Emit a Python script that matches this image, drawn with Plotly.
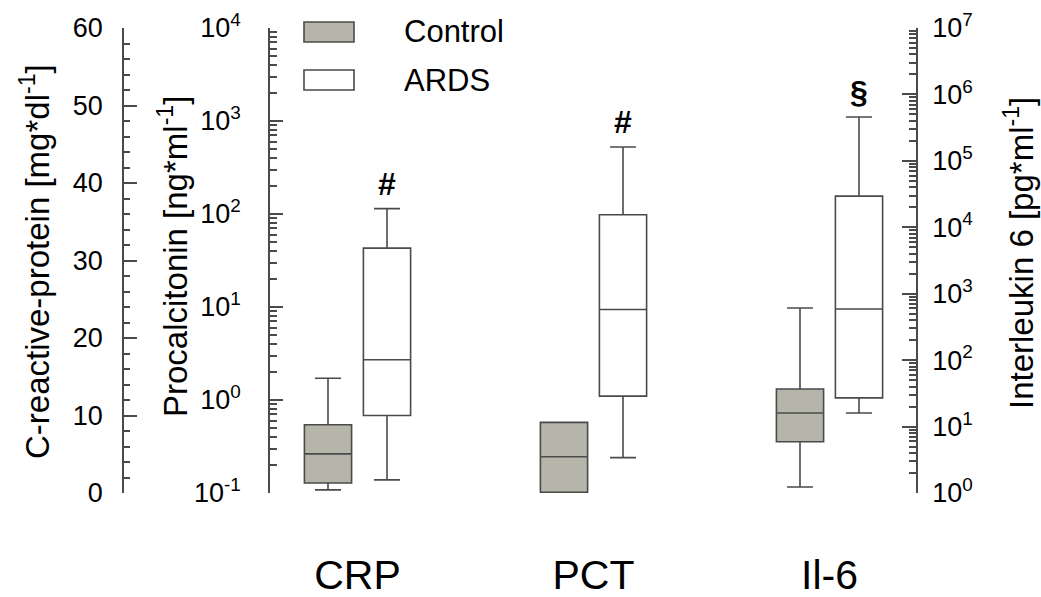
import math
import plotly.graph_objects as go

# ---------------- data ----------------
categories = ["CRP", "PCT", "Il-6"]
groups = ["Control", "ARDS"]
# each list: [lower whisker, Q1, median, Q3, upper whisker]
crp_control = [0.4, 1.3, 5.05, 8.8, 14.8]
crp_ards = [1.7, 10.0, 17.2, 31.6, 36.7]
pct_control = [0.102, 0.102, 0.245, 0.575, 0.575]
pct_ards = [0.24, 1.1, 9.4, 98, 525]
il6_control = [1.23, 5.9, 16, 36.8, 610]
il6_ards = [16, 27, 588, 29500, 457000]
significance = ["#", "#", "§"]

crp_ticks = [0, 10, 20, 30, 40, 50, 60]
pct_ticks = [-1, 0, 1, 2, 3, 4]
il6_ticks = [0, 1, 2, 3, 4, 5, 6, 7]

axis_titles = ["C-reactive-protein [mg*dl<sup>-1</sup>]",
               "Procalcitonin [ng*ml<sup>-1</sup>]",
               "Interleukin 6 [pg*ml<sup>-1</sup>]"]

# ---------------- style ----------------
W, H = 1041, 597
TOP, BOT = 28, 493
FONT = "Liberation Sans, Arial, sans-serif"
LINE = "#4a4a4a"
FILLS = {"Control": "#b6b5a9", "ARDS": "#ffffff"}
OFFS = {"Control": -0.125, "ARDS": 0.125}
CENTER0, SPACING = 357.5, 236.0


def px_x(p):
    return p / W


def px_y(p):
    return (BOT - p) / (BOT - TOP)


data = {
    ("CRP", "Control"): crp_control, ("CRP", "ARDS"): crp_ards,
    ("PCT", "Control"): pct_control, ("PCT", "ARDS"): pct_ards,
    ("Il-6", "Control"): il6_control, ("Il-6", "ARDS"): il6_ards,
}
axes = {"CRP": "y", "PCT": "y2", "Il-6": "y3"}

fig = go.Figure()
for i, cat in enumerate(categories):
    for g in groups:
        lf, q1, med, q3, uf = data[(cat, g)]
        fig.add_trace(go.Box(
            x=[i + OFFS[g]], q1=[q1], median=[med], q3=[q3],
            lowerfence=[lf], upperfence=[uf],
            width=0.2, whiskerwidth=0.55,
            fillcolor=FILLS[g], line=dict(color=LINE, width=1.6),
            yaxis=axes[cat], name=g, showlegend=False, boxpoints=False,
            hoverinfo="skip",
        ))

annotations = []
# significance markers
for i, cat in enumerate(categories):
    uf = data[(cat, "ARDS")][4]
    yv = uf if cat == "CRP" else math.log10(uf)
    annotations.append(dict(
        x=i + OFFS["ARDS"], y=yv, xref="x", yref=axes[cat],
        text="<b>%s</b>" % significance[i], showarrow=False,
        yanchor="bottom", yshift=5,
        font=dict(family=FONT, size=32, color="black")))

# axis titles
title_pos = [(35, 262), (173, 257), (1019, 253)]
for t, (xp, yp) in zip(axis_titles, title_pos):
    annotations.append(dict(
        x=px_x(xp), y=px_y(yp), xref="paper", yref="paper", text=t,
        textangle=-90, showarrow=False, xanchor="center", yanchor="middle",
        font=dict(family=FONT, size=33, color="black")))

# legend
shapes = []
legend_rows = [("Control", 22, 42), ("ARDS", 70, 90)]
for name, y0, y1 in legend_rows:
    shapes.append(dict(type="rect", xref="paper", yref="paper",
                       x0=px_x(304), x1=px_x(354), y0=px_y(y1), y1=px_y(y0),
                       fillcolor=FILLS[name], line=dict(color=LINE, width=1.6)))
    annotations.append(dict(
        x=px_x(402), y=px_y((y0 + y1) / 2), xref="paper", yref="paper",
        text=name, showarrow=False, xanchor="left", yanchor="middle",
        font=dict(family=FONT, size=31, color="black")))


def sup(e):
    return "10<sup>%d</sup>" % e


def minor_vals(lo, hi):
    return [m * 10 ** k for k in range(lo, hi) for m in range(2, 10)]


common = dict(showline=True, linecolor=LINE, linewidth=1.6, ticks="inside",
              tickcolor=LINE, tickwidth=1.6, showgrid=False, zeroline=False,
              tickfont=dict(family=FONT, size=27, color="black"),
              automargin=False, anchor="free")

fig.update_layout(
    width=W, height=H,
    margin=dict(l=0, r=0, t=TOP, b=H - BOT, pad=0),
    paper_bgcolor="white", plot_bgcolor="white",
    showlegend=False,
    font=dict(family=FONT, color="black"),
    xaxis=dict(range=[-CENTER0 / SPACING, (W - CENTER0) / SPACING],
               domain=[0, 1], tickvals=[0, 1, 2], ticktext=categories,
               tickfont=dict(family=FONT, size=41, color="black"),
               showline=False, ticks="", showgrid=False, zeroline=False,
               ticklabelstandoff=54, automargin=False, fixedrange=True),
    yaxis=dict(range=[0, 60], position=px_x(123), side="left",
               tickvals=crp_ticks, ticklen=13, ticklabelstandoff=14,
               minor=dict(dtick=2, ticks="inside", ticklen=6,
                          tickcolor=LINE, tickwidth=1.6, showgrid=False),
               **common),
    yaxis2=dict(type="log", range=[-1, 4], position=px_x(269), side="left",
                overlaying="y",
                tickvals=[10 ** e for e in pct_ticks],
                ticktext=[sup(e) for e in pct_ticks],
                ticklen=13, ticklabelstandoff=22,
                minor=dict(tickmode="array", tickvals=minor_vals(-1, 4),
                           ticks="inside", ticklen=7, tickcolor=LINE,
                           tickwidth=1.6, showgrid=False),
                **common),
    yaxis3=dict(type="log", range=[0, 7], position=px_x(917), side="right",
                overlaying="y",
                tickvals=[10 ** e for e in il6_ticks],
                ticktext=[sup(e) for e in il6_ticks],
                ticklen=14, ticklabelstandoff=9,
                minor=dict(tickmode="array", tickvals=minor_vals(0, 7),
                           ticks="inside", ticklen=7, tickcolor=LINE,
                           tickwidth=1.6, showgrid=False),
                **common),
    annotations=annotations,
    shapes=shapes,
)

fig.write_html("out.html")
